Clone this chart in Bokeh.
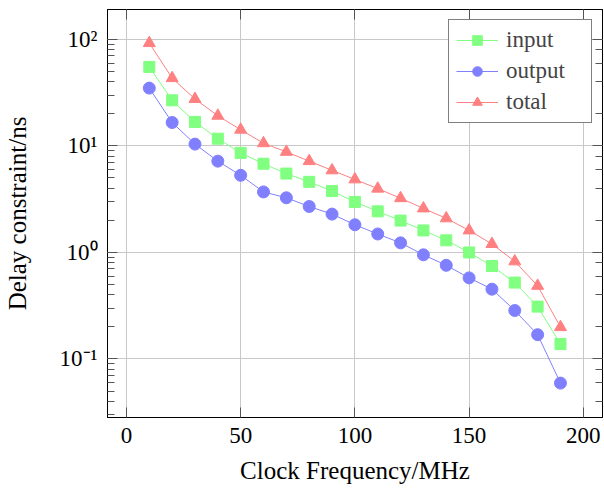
from bokeh.plotting import figure
from bokeh.models import Range1d, LinearAxis, LogAxis, CustomJSTickFormatter, FixedTicker, Legend, LegendItem
from bokeh.embed import file_html
from bokeh.resources import INLINE

freq = [10, 20, 30, 40, 50, 60, 70, 80, 90, 100, 110, 120, 130, 140, 150, 160, 170, 180, 190]
input_delay = [55.2, 26.8, 16.8, 11.7, 8.6, 6.8, 5.5, 4.6, 3.77, 2.98, 2.43, 1.99, 1.61, 1.30, 1.0, 0.746, 0.521, 0.310, 0.138]
output_delay = [34.9, 16.6, 10.4, 7.2, 5.3, 3.7, 3.26, 2.7, 2.29, 1.82, 1.49, 1.23, 0.95, 0.757, 0.577, 0.452, 0.285, 0.169, 0.0593]
total_delay = [92.4, 43.3, 27.6, 19.2, 14.2, 10.6, 8.8, 7.2, 5.9, 4.85, 3.97, 3.23, 2.59, 2.09, 1.61, 1.20, 0.824, 0.486, 0.199]
x_ticks = [0, 50, 100, 150, 200]

FONT = "Liberation Serif"
TICK_SIZE = "23px"
LABEL_SIZE = "25px"

p = figure(width=603, height=486, output_backend="svg", toolbar_location=None,
           y_axis_type="log",
           x_range=Range1d(-8.3, 208.4), y_range=Range1d(0.0282, 191),
           min_border_left=107, min_border_right=1, min_border_top=9, min_border_bottom=60)

p.outline_line_color = "black"
p.outline_line_width = 1

green = "#80ff80"
blue = "#8080ff"
red = "#ff8080"

r_in_l = p.line(freq, input_delay, line_color=green, line_width=1)
r_in_m = p.scatter(freq, input_delay, marker="square", size=11, fill_color=green, line_color=green)
r_out_l = p.line(freq, output_delay, line_color=blue, line_width=1)
r_out_m = p.scatter(freq, output_delay, marker="circle", size=12, fill_color=blue, line_color=blue)
r_tot_l = p.line(freq, total_delay, line_color=red, line_width=1)
r_tot_m = p.scatter(freq, total_delay, marker="triangle", size=12, fill_color=red, line_color=red)

# grid
p.xgrid.ticker = FixedTicker(ticks=x_ticks)
p.xgrid.grid_line_color = "#c8c8c8"
p.ygrid.grid_line_color = "#c8c8c8"

xa = p.xaxis[0]
xa.ticker = FixedTicker(ticks=x_ticks)
xa.axis_label = "Clock Frequency/MHz"
ya = p.yaxis[0]
ya.axis_label = "Delay constraint/ns"
ya.formatter = CustomJSTickFormatter(code="""
const e = Math.round(Math.log10(tick));
const sup = {"-": "\u207b", "0": "\u2070", "1": "\u00b9", "2": "\u00b2", "3": "\u00b3",
             "4": "\u2074", "5": "\u2075", "6": "\u2076", "7": "\u2077", "8": "\u2078", "9": "\u2079"};
return "10" + String(e).split("").map(c => sup[c]).join("");
""")

for ax in (xa, ya):
    ax.axis_line_color = "black"
    ax.major_tick_in = 10
    ax.major_tick_out = 0
    ax.minor_tick_in = 7
    ax.minor_tick_out = 0
    ax.major_tick_line_color = "#555555"
    ax.minor_tick_line_color = "#555555"
    ax.major_label_text_font = FONT
    ax.major_label_text_font_size = TICK_SIZE
    ax.major_label_text_color = "black"
    ax.axis_label_text_font = FONT
    ax.axis_label_text_font_size = LABEL_SIZE
    ax.axis_label_text_font_style = "normal"
    ax.axis_label_text_color = "black"
xa.minor_tick_line_color = None
xa.major_label_standoff = 10
xa.axis_label_standoff = 11
ya.major_label_standoff = 10
ya.axis_label_standoff = 26

# mirrored ticks on top and right
top = LinearAxis(ticker=FixedTicker(ticks=x_ticks))
right = LogAxis()
for ax in (top, right):
    ax.major_label_text_font_size = "1px"
    ax.major_label_text_color = None
    ax.major_label_standoff = 0
    ax.axis_label_standoff = 0
    ax.axis_line_color = "black"
    ax.major_tick_in = 10
    ax.major_tick_out = 0
    ax.minor_tick_in = 7
    ax.minor_tick_out = 0
    ax.major_tick_line_color = "#555555"
    ax.minor_tick_line_color = "#555555"
top.minor_tick_line_color = None
p.add_layout(top, "above")
p.add_layout(right, "right")

legend = Legend(items=[
    LegendItem(label="input", renderers=[r_in_l, r_in_m]),
    LegendItem(label="output", renderers=[r_out_l, r_out_m]),
    LegendItem(label="total", renderers=[r_tot_l, r_tot_m]),
], location="top_right")
legend.label_text_font = FONT
legend.label_text_font_size = TICK_SIZE
legend.border_line_color = "black"
legend.border_line_width = 1
legend.glyph_width = 42
legend.glyph_height = 24
legend.spacing = 5
legend.label_standoff = 8
legend.label_width = 78
legend.padding = 7
legend.margin = 10
legend.background_fill_alpha = 1
p.add_layout(legend)

open("out.html", "w").write(file_html(p, INLINE))
